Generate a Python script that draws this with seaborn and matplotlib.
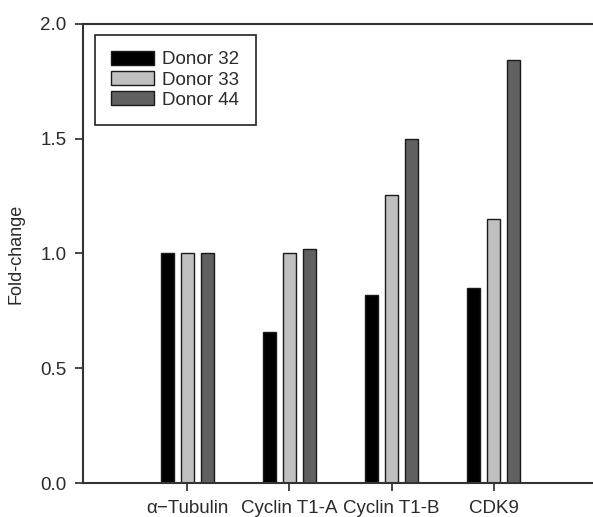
import pandas as pd
import matplotlib
matplotlib.use("Agg")
import matplotlib.pyplot as plt
import seaborn as sns

# ----------------------
# Data
# ----------------------
genes = ["\u03b1\u2212Tubulin", "Cyclin T1-A", "Cyclin T1-B", "CDK9"]
donors = ["Donor 32", "Donor 33", "Donor 44"]
donor32 = [1.00, 0.66, 0.82, 0.85]
donor33 = [1.00, 1.00, 1.255, 1.15]
donor44 = [1.00, 1.02, 1.50, 1.845]
colors = ["#000000", "#c0c0c0", "#606060"]

df = pd.DataFrame({
    "gene": genes * 3,
    "donor": [d for d in donors for _ in genes],
    "fold": donor32 + donor33 + donor44,
})

# ----------------------
# Style
# ----------------------
sns.set_style("ticks")
plt.rcParams["font.family"] = ["Liberation Sans", "DejaVu Sans"]
plt.rcParams["font.size"] = 13.5
ink = "#2a2a2a"

fig = plt.figure(figsize=(5.93, 5.17), dpi=100)
ax = fig.add_axes([83 / 593, 1 - 483 / 517, 510 / 593, 459 / 517])

sns.barplot(data=df, x="gene", y="fold", hue="donor", order=genes,
            hue_order=donors, palette=colors, width=0.585, gap=0.35,
            edgecolor="#1a1a1a", linewidth=1.0, ax=ax)

ax.set_xlim(-1.02, 3.97)
ax.set_ylim(0, 2.0)
ax.set_yticks([0, 0.5, 1.0, 1.5, 2.0])
ax.set_yticklabels(["0.0", "0.5", "1.0", "1.5", "2.0"])
ax.set_xlabel("")
ax.set_ylabel("Fold-change", fontsize=13, color=ink, labelpad=11)
ax.tick_params(axis="both", direction="out", length=6, width=1.2,
               colors=ink, labelsize=13.5, pad=6)

for side in ["left", "bottom", "top"]:
    ax.spines[side].set_color("#333333")
    ax.spines[side].set_linewidth(1.5)
ax.spines["right"].set_visible(False)

leg = ax.legend(loc="upper left", bbox_to_anchor=(0.0235, 0.976),
                borderaxespad=0, fancybox=False, framealpha=1,
                edgecolor="#222222", fontsize=13.5, handlelength=2.3,
                handleheight=0.75, labelspacing=0.15, handletextpad=0.45,
                borderpad=0.85, title=None)
leg.get_frame().set_linewidth(1.2)
for t in leg.get_texts():
    t.set_color(ink)

fig.savefig("out.png", dpi=100)
